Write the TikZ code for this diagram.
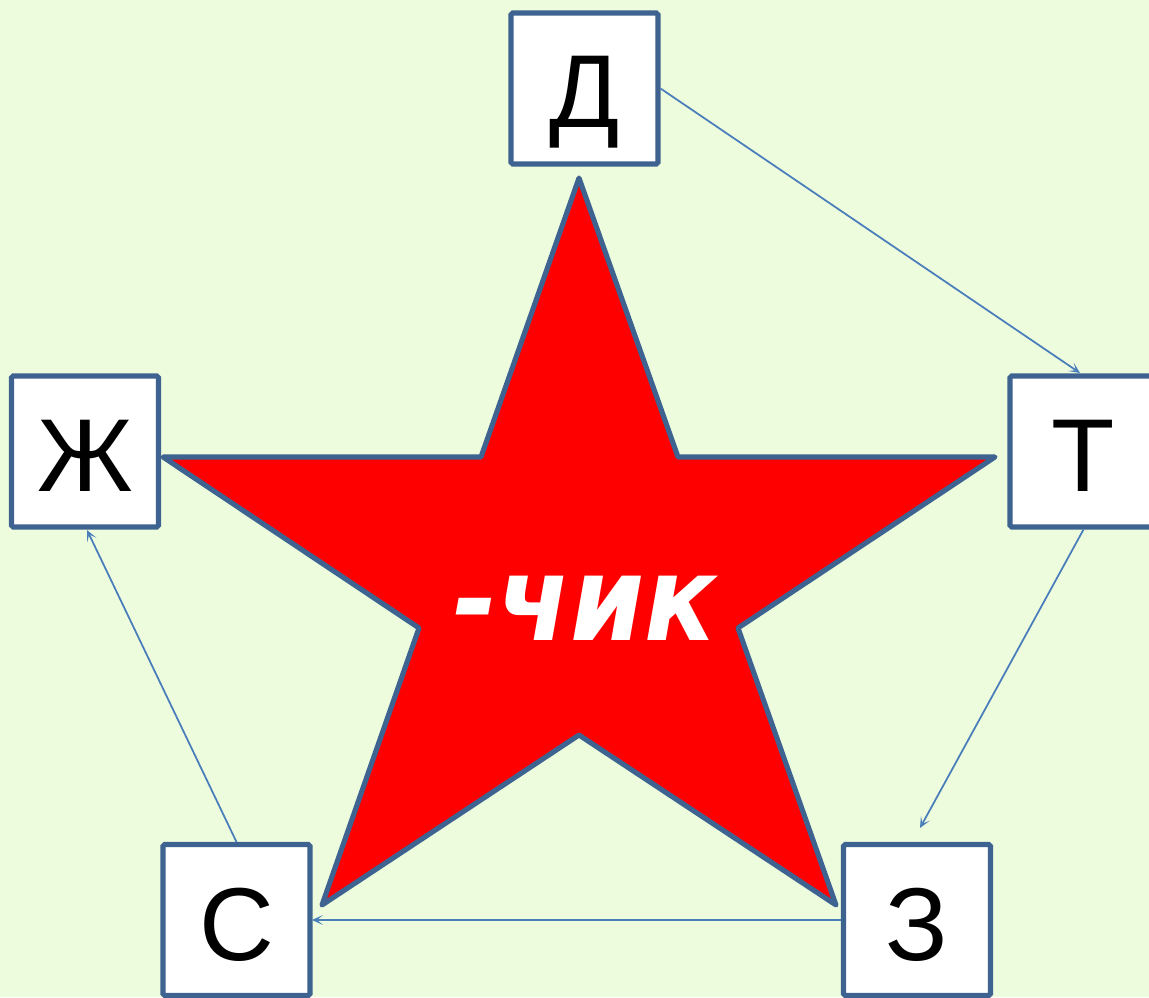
\documentclass[tikz,border=0pt]{standalone}
\usepackage{fontspec}
\setmainfont{Liberation Sans}
\newfontfamily\dvfont{DejaVu Sans}
\usetikzlibrary{arrows.meta}
\definecolor{bgc}{RGB}{238,252,222}
\definecolor{bordc}{RGB}{62,99,145}
\definecolor{arrc}{RGB}{74,126,187}
\tikzset{
  letterbox/.style={draw=bordc, line width=2.9pt, fill=white, minimum width=2.94cm, minimum height=3.02cm, inner sep=0pt, rounded corners=1pt},
  lettertext/.style={anchor=base, inner sep=0pt, font=\fontsize{59}{60}\selectfont},
  arr/.style={draw=arrc, line width=1pt, -{Stealth[length=0.22cm,width=0.2cm,inset=0.12cm]}},
  starshape/.style={draw=bordc, line width=2.9pt, fill=red, line join=round}
}
\begin{document}
\begin{tikzpicture}[x=0.02cm,y=-0.02cm]
\useasboundingbox (0,0) rectangle (1149,997);
\clip (0,0) rectangle (1149,997);
\fill[bgc] (0,0) rectangle (1149,997);
% star
\draw[starshape] (579,178) -- (678,457) -- (995,457) -- (738,628) -- (836,905) -- (579,735) -- (322,905) -- (419,628) -- (163,457) -- (481,457) -- cycle;
\node[font=\dvfont\bfseries\itshape\fontsize{67}{70}\selectfont, text=white, anchor=base, inner sep=0pt, xscale=0.9] (chik) at (585,640) {-чик};
% boxes
\node[letterbox] (D) at (584.5,88.5) {};
\node[letterbox] (T) at (1083.5,451.5) {};
\node[letterbox] (Zh) at (85,451.5) {};
\node[letterbox] (S) at (236.5,920) {};
\node[letterbox] (Z) at (917,920) {};
\node[lettertext] (Dt) at (584.5,128) {Д};
\node[lettertext] (Tt) at (1083.5,491.5) {Т};
\node[lettertext] (Zht) at (85,491.5) {Ж};
\node[lettertext] (St) at (236.5,960) {С};
\node[lettertext] (Zt) at (917,960) {З};
% connectors
\coordinate (Ztop) at (920,828);
\coordinate (Ttop) at (1080,373);
\coordinate (Zhbot) at (87,530);
\coordinate (Sright) at (312,920);
\draw[arr] (D.east) -- (Ttop);
\draw[arr] (T.south) -- (Ztop);
\draw[arr] (Z.west) -- (Sright);
\draw[arr] (S.north) -- (Zhbot);
\end{tikzpicture}
\end{document}
